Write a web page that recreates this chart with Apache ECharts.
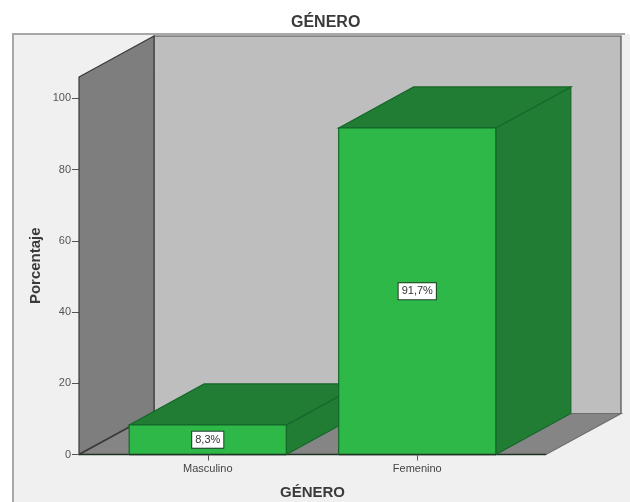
<!DOCTYPE html>
<html>
<head>
<meta charset="utf-8">
<style>html,body{margin:0;padding:0;background:#fff}#chart{width:630px;height:502px}</style>
<script src="https://cdn.jsdelivr.net/npm/echarts@6/dist/echarts.min.js"></script>
</head>
<body>
<div id="chart"></div>
<script>
// Gender distribution, drawn as a pseudo-3D bar chart.
const categories = ['Masculino', 'Femenino'];
const percentages = [8.3, 91.7];
const percentageLabels = ['8,3%', '91,7%'];
const yTicks = [0, 20, 40, 60, 80, 100];

// Oblique projection and room proportions, in pixels.
const DEPTH_X = 75;
const DEPTH_Y = 41;
const ROOM_PAD = 24;
const Y_TOP = 106;

const FONT = '"Liberation Sans", Arial, sans-serif';
const EDGE = '#3a3a3a';
const BAR_EDGE = '#14672a';
const BASE_LINE = '#1f3324';

const poly = (points, fill, stroke) => ({
  type: 'polygon',
  shape: { points },
  style: { fill, stroke: stroke || 'none', lineWidth: stroke ? 1.2 : 0 }
});

const segment = (x1, y1, x2, y2, stroke) => ({
  type: 'line',
  shape: { x1, y1, x2, y2 },
  style: { stroke, lineWidth: 1.5 }
});

// Back wall, side wall and floor of the chart room.
function renderRoom(params, api) {
  const g = params.coordSys;
  const left = g.x - ROOM_PAD;
  const right = g.x + g.width + ROOM_PAD;
  const bottom = api.coord([0, 0])[1];
  const top = api.coord([0, Y_TOP])[1];
  return {
    type: 'group',
    children: [
      poly([[left + DEPTH_X, top - DEPTH_Y], [right + DEPTH_X, top - DEPTH_Y],
            [right + DEPTH_X, bottom - DEPTH_Y], [left + DEPTH_X, bottom - DEPTH_Y]], '#bebebe', '#4f4f4f'),
      poly([[left, top], [left + DEPTH_X, top - DEPTH_Y],
            [left + DEPTH_X, bottom - DEPTH_Y], [left, bottom]], '#7e7e7e', EDGE),
      poly([[left, bottom], [left + DEPTH_X, bottom - DEPTH_Y],
            [right + DEPTH_X, bottom - DEPTH_Y], [right, bottom]], '#858585', '#6e6e6e'),
      segment(left, bottom, left + DEPTH_X, bottom - DEPTH_Y, EDGE),
      segment(left, bottom, right, bottom, BASE_LINE)
    ]
  };
}

// One box: front face, top face, side face and its value tag.
function renderBar(params, api) {
  const idx = api.value(0);
  const value = api.value(1);
  const halfWidth = api.size([1, 0])[0] * 0.75 / 2;
  const [cx, yTop] = api.coord([idx, value]);
  const yBase = api.coord([idx, 0])[1];
  const x0 = cx - halfWidth;
  const x1 = cx + halfWidth;
  return {
    type: 'group',
    children: [
      poly([[x1, yTop], [x1 + DEPTH_X, yTop - DEPTH_Y],
            [x1 + DEPTH_X, yBase - DEPTH_Y], [x1, yBase]], '#217d33', BAR_EDGE),
      poly([[x0, yTop], [x0 + DEPTH_X, yTop - DEPTH_Y],
            [x1 + DEPTH_X, yTop - DEPTH_Y], [x1, yTop]], '#217d33', BAR_EDGE),
      poly([[x0, yTop], [x1, yTop], [x1, yBase], [x0, yBase]], '#2eb848', BAR_EDGE),
      segment(x0, yBase, x1, yBase, BASE_LINE),
      {
        type: 'text',
        x: cx,
        y: (yTop + yBase) / 2,
        style: {
          text: percentageLabels[params.dataIndex],
          font: '11px ' + FONT,
          fill: '#333',
          align: 'center',
          verticalAlign: 'middle',
          backgroundColor: '#fff',
          borderColor: '#1f3d26',
          borderWidth: 1,
          padding: [3, 3, 2, 3]
        }
      }
    ]
  };
}

const chart = echarts.init(document.getElementById('chart'), null, { renderer: 'canvas' });
chart.setOption({
  animation: false,
  backgroundColor: '#fff',
  title: {
    text: 'GÉNERO',
    left: 286,
    top: 10,
    textStyle: { fontFamily: FONT, fontSize: 16, fontWeight: 'bold', color: '#3a3a3a' }
  },
  graphic: [
    {
      type: 'rect',
      z: -10,
      shape: { x: 13, y: 34, width: 617, height: 468 },
      style: { fill: '#f0f0f0' }
    },
    {
      type: 'polyline',
      z: -9,
      shape: { points: [[13, 502], [13, 34], [625, 34]] },
      style: { fill: 'none', stroke: '#a8a8a8', lineWidth: 2 }
    }
  ],
  grid: { left: 103, right: 108, top: 77, bottom: 47.5, outerBoundsMode: 'none' },
  xAxis: {
    type: 'category',
    data: categories,
    name: 'GÉNERO',
    nameLocation: 'middle',
    nameGap: 31,
    nameTextStyle: { fontFamily: FONT, fontSize: 15, fontWeight: 'bold', color: '#3a3a3a' },
    axisLine: { show: false },
    axisTick: { show: true, alignWithLabel: true, length: 6, lineStyle: { color: '#555' } },
    axisLabel: { fontFamily: FONT, fontSize: 11, color: '#444', margin: 9 },
    z: 5
  },
  yAxis: {
    type: 'value',
    min: 0,
    max: Y_TOP,
    offset: ROOM_PAD,
    name: 'Porcentaje',
    nameLocation: 'middle',
    nameGap: 36,
    nameMoveOverlap: false,
    nameTextStyle: { fontFamily: FONT, fontSize: 15, fontWeight: 'bold', color: '#3a3a3a' },
    splitLine: { show: false },
    axisLine: { show: false },
    axisTick: { show: true, length: 7, lineStyle: { color: '#555' }, customValues: yTicks },
    axisLabel: { fontFamily: FONT, fontSize: 11, color: '#555', margin: 8, customValues: yTicks }
  },
  series: [
    {
      type: 'custom',
      z: 1,
      clip: false,
      silent: true,
      renderItem: renderRoom,
      data: [[0, 0]],
      encode: { x: 0, y: 1 }
    },
    {
      type: 'custom',
      z: 2,
      clip: false,
      renderItem: renderBar,
      data: percentages.map((v, i) => [i, v]),
      encode: { x: 0, y: 1 }
    }
  ]
});
</script>
</body>
</html>
